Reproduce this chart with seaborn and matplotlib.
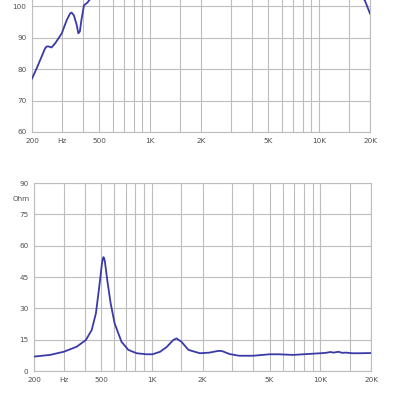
import numpy as np
import pandas as pd
import matplotlib
matplotlib.use('Agg')
import matplotlib.pyplot as plt
import seaborn as sns

#------------------------------------------
# frequency response (dB SPL); middle part is off the top
spl_freq=[200, 213, 226, 239, 244, 252, 261, 274, 287, 300, 321, 336, 343, 354, 368, 376, 384, 392, 406, 426, 437,
          500, 700, 1000, 2000, 5000, 10000, 15000, 18600, 20000]
spl_db=[77.0, 80.2, 83.5, 86.6, 87.2, 87.2, 86.9, 88.2, 89.8, 91.4, 95.6, 97.7, 98.0, 97.1, 94.0, 91.4, 92.0, 95.6, 100.3, 101.2, 102.0,
        104.5, 106.0, 105.5, 106.0, 105.0, 106.0, 105.0, 102.0, 97.7]

# impedance (Ohm)
imp_freq=[200, 249, 300, 358, 406, 440, 466, 488, 505, 511, 516, 521, 527, 544, 570, 602, 661, 726, 813, 933, 1010, 1120, 1230,
          1340, 1400, 1500, 1650, 1930, 2200, 2470, 2600, 2900, 3300, 4000, 5000, 5700, 6900, 8300, 10000, 10800,
          11500, 12000, 12800, 13500, 14200, 15500, 17200, 20000]
imp_ohm=[6.9, 7.7, 9.2, 11.6, 14.8, 19.6, 27.6, 40.4, 50.8, 53.4, 54.5, 54.1, 52.4, 43.6, 32.4, 22.8, 14.0, 10.1, 8.5, 8.0, 8.0, 9.2, 11.6,
         14.8, 15.6, 14.0, 10.1, 8.5, 8.8, 9.6, 9.6, 8.1, 7.3, 7.3, 8.0, 8.0, 7.7, 8.1, 8.5, 8.7,
         9.1, 8.8, 9.2, 8.7, 8.8, 8.5, 8.5, 8.6]

grid_f=[200, 300, 400, 500, 600, 700, 800, 900, 1000, 1500, 2000, 3000, 4000, 5000, 6000, 7000, 8000, 9000,
        10000, 15000, 20000]
xtick_f=[200, 300, 500, 1000, 2000, 5000, 10000, 20000]
xtick_lbl=['200', 'Hz', '500', '1K', '2K', '5K', '10K', '20K']

#------------------------------------------
line_c='#3a3aa8'
grid_c='#bdbdbd'
txt_c='#505050'

def style_ax(ax, yticks):
    ax.set_xscale('log')
    ax.set_xlim(200, 20000)
    ax.set_xticks([], minor=True)
    ax.set_xticks(xtick_f)
    ax.set_xticklabels(xtick_lbl)
    ax.set_yticks(yticks)
    for f in grid_f:
        ax.axvline(f, color=grid_c, lw=0.8, zorder=0)
    for y in yticks:
        ax.axhline(y, color=grid_c, lw=0.8, zorder=0)
    ax.tick_params(length=0, labelsize=5.2, colors=txt_c, pad=4)
    for s in ax.spines.values():
        s.set_color(grid_c)
        s.set_linewidth(0.8)
    ax.set_xlabel('')
    ax.set_ylabel('')

fig=plt.figure(figsize=(4, 4), dpi=100)

#top: SPL
ax1=fig.add_axes([0.08, 0.67, 0.845, 0.33])
df1=pd.DataFrame({'f': spl_freq, 'db': spl_db})
sns.lineplot(x='f', y='db', data=df1, ax=ax1, color=line_c, lw=1.3, zorder=3)
style_ax(ax1, [60, 70, 80, 90, 100])
ax1.set_ylim(60, 102)
ax1.spines['top'].set_visible(False)

#bottom: impedance
ax2=fig.add_axes([0.085, 0.0725, 0.8425, 0.47])
df2=pd.DataFrame({'f': imp_freq, 'ohm': imp_ohm})
sns.lineplot(x='f', y='ohm', data=df2, ax=ax2, color=line_c, lw=1.3, zorder=3)
style_ax(ax2, [0, 15, 30, 45, 60, 75, 90])
ax2.set_ylim(0, 90)
ax2.text(-0.012, 0.915, 'Ohm', transform=ax2.transAxes, ha='right', va='center', fontsize=5.2, color=txt_c)

fig.savefig('out.png', dpi=100)
